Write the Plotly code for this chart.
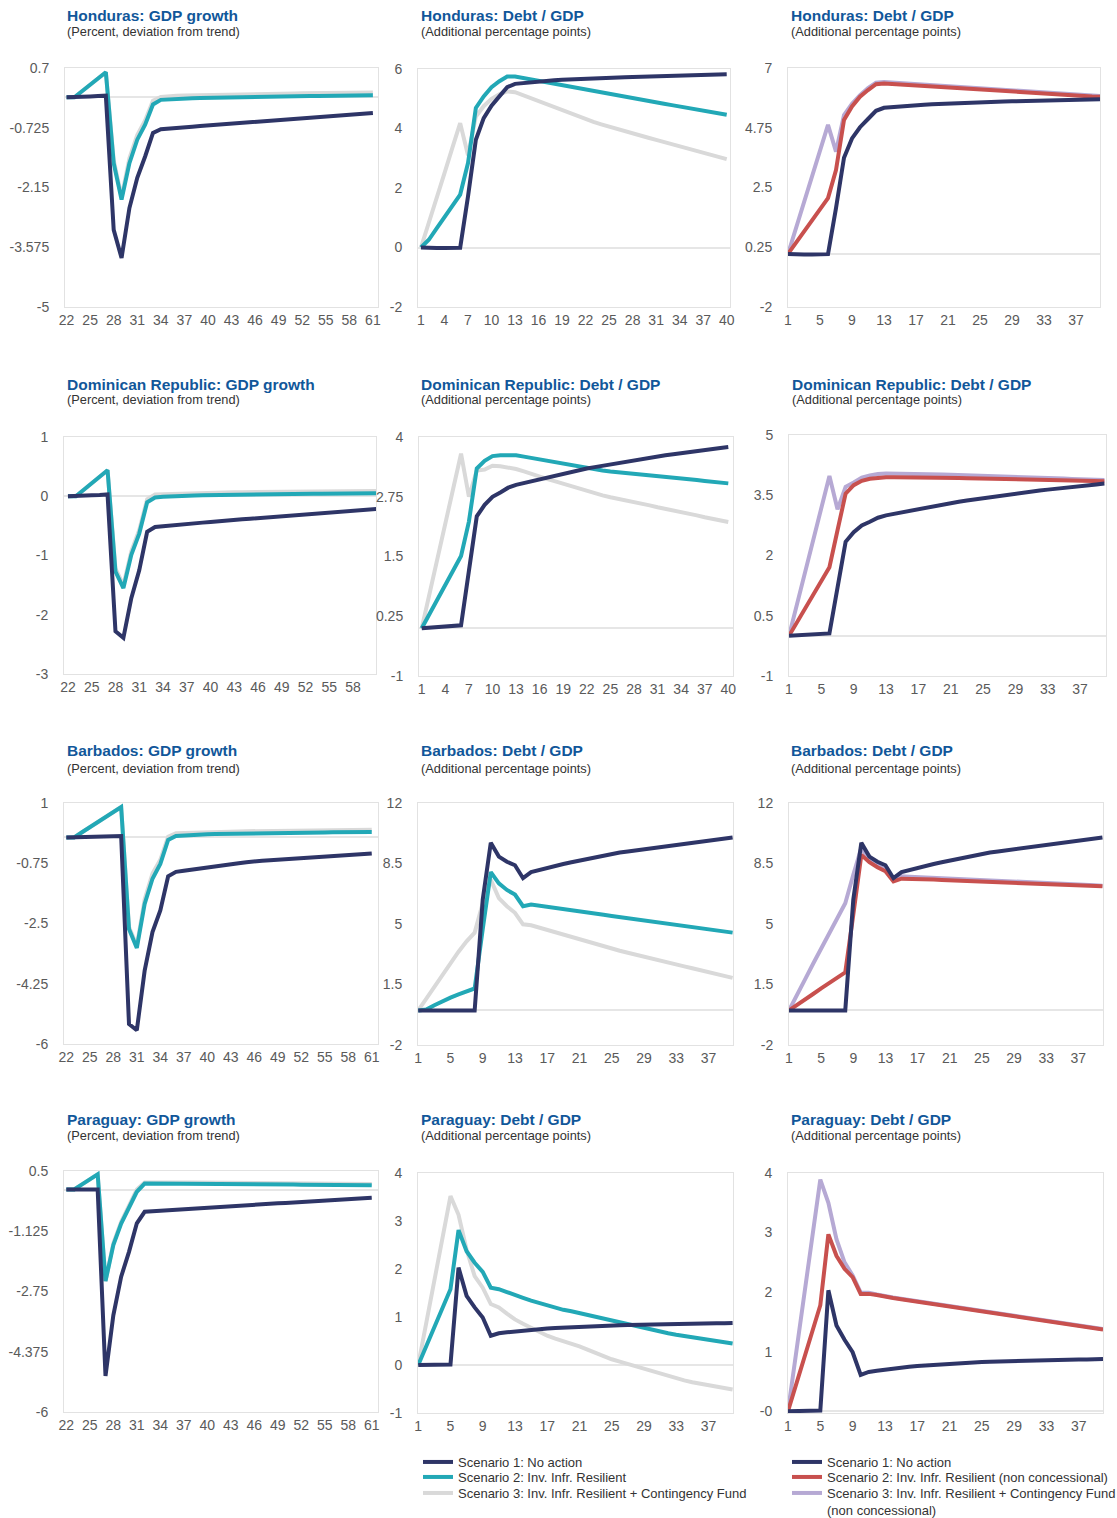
import plotly.graph_objects as go

W, H = 1117, 1518

gdp_x = list(range(22, 62))
debt_x = list(range(1, 41))

# ---------------- Honduras ----------------
hon_gdp_s1 = [0, 0, 0.01, 0.02, 0.03, 0.04, -3.16, -3.83, -2.64, -1.92, -1.41, -0.85,
              -0.76, -0.74, -0.725, -0.71, -0.70, -0.685, -0.67, -0.655, -0.64, -0.63, -0.615, -0.60,
              -0.585, -0.57, -0.56, -0.545, -0.53, -0.515, -0.50, -0.49, -0.475, -0.46, -0.445, -0.43,
              -0.42, -0.405, -0.39, -0.375]
hon_gdp_s2 = [0, 0, 0.15, 0.3, 0.45, 0.6, -1.57, -2.44, -1.57, -1.01, -0.65, -0.17,
              -0.06, -0.045, -0.035, -0.03, -0.02, -0.015, -0.01, -0.005, 0.0, 0.005, 0.01, 0.012,
              0.015, 0.018, 0.02, 0.022, 0.025, 0.028, 0.03, 0.032, 0.035, 0.037, 0.04, 0.042,
              0.044, 0.046, 0.048, 0.05]
hon_gdp_s3 = [0, 0, 0.15, 0.3, 0.45, 0.6, -1.5, -2.38, -1.45, -0.9, -0.55, -0.08,
              0.01, 0.03, 0.04, 0.045, 0.05, 0.055, 0.06, 0.065, 0.07, 0.072, 0.075, 0.078,
              0.08, 0.082, 0.085, 0.088, 0.09, 0.092, 0.095, 0.097, 0.1, 0.102, 0.104, 0.106,
              0.108, 0.11, 0.112, 0.114]
hon_debt_s1 = [0, -0.02, -0.02, -0.02, -0.02, -0.01, 1.72, 3.62, 4.35, 4.77, 5.08, 5.39, 5.5,
               5.53, 5.56, 5.58, 5.60, 5.62, 5.635, 5.65, 5.66, 5.67, 5.685, 5.695, 5.705, 5.715,
               5.725, 5.735, 5.745, 5.755, 5.76, 5.77, 5.775, 5.785, 5.79, 5.80, 5.805, 5.81, 5.815, 5.82]
hon_debt_s2 = [0, 0.26, 0.64, 1.02, 1.4, 1.78, 2.84, 4.69, 5.08, 5.39, 5.59, 5.75, 5.75,
               5.70, 5.65, 5.60, 5.55, 5.50, 5.45, 5.40, 5.35, 5.30, 5.25, 5.20, 5.15, 5.10,
               5.055, 5.01, 4.965, 4.92, 4.875, 4.83, 4.785, 4.74, 4.695, 4.65, 4.60, 4.555, 4.51, 4.46]
hon_debt_s3 = [0, 0.8, 1.65, 2.5, 3.35, 4.18, 3.1, 4.4, 4.75, 5.0, 5.15, 5.25, 5.22,
               5.12, 5.02, 4.92, 4.81, 4.71, 4.61, 4.5, 4.4, 4.3, 4.22, 4.14, 4.06, 3.98,
               3.91, 3.84, 3.77, 3.69, 3.62, 3.55, 3.47, 3.40, 3.33, 3.25, 3.18, 3.11, 3.04, 2.97]
hon_nc_s2 = [0, 0.42, 0.84, 1.26, 1.68, 2.1, 3.16, 5.04, 5.55, 5.92, 6.17, 6.39, 6.42,
             6.40, 6.38, 6.36, 6.34, 6.32, 6.30, 6.285, 6.265, 6.245, 6.225, 6.205, 6.19, 6.17,
             6.15, 6.13, 6.11, 6.09, 6.07, 6.05, 6.035, 6.015, 5.995, 5.975, 5.955, 5.94, 5.93, 5.92]
hon_nc_s3 = [0, 0.97, 1.94, 2.91, 3.88, 4.86, 3.85, 5.23, 5.65, 5.98, 6.24, 6.45, 6.47,
             6.45, 6.43, 6.41, 6.39, 6.37, 6.35, 6.33, 6.31, 6.29, 6.27, 6.25, 6.23, 6.21,
             6.19, 6.17, 6.15, 6.13, 6.11, 6.09, 6.07, 6.05, 6.03, 6.01, 5.99, 5.97, 5.96, 5.95]

# ---------------- Dominican Republic ----------------
dr_gdp_s1 = [0, 0, 0.01, 0.015, 0.02, 0.03, -2.28, -2.39, -1.72, -1.25, -0.6, -0.52,
             -0.505, -0.49, -0.48, -0.47, -0.455, -0.445, -0.435, -0.42, -0.41, -0.40, -0.39, -0.38,
             -0.37, -0.36, -0.35, -0.34, -0.33, -0.32, -0.31, -0.30, -0.29, -0.28, -0.27, -0.26,
             -0.25, -0.235, -0.225, -0.215]
dr_gdp_s2 = [0, 0, 0.11, 0.22, 0.33, 0.44, -1.27, -1.55, -0.99, -0.63, -0.1, -0.02,
             -0.01, 0.0, 0.005, 0.01, 0.013, 0.016, 0.019, 0.022, 0.024, 0.026, 0.028, 0.03,
             0.032, 0.034, 0.035, 0.037, 0.038, 0.04, 0.041, 0.042, 0.043, 0.044, 0.045, 0.046,
             0.047, 0.048, 0.049, 0.05]
dr_gdp_s3 = [0, 0, 0.11, 0.22, 0.33, 0.44, -1.22, -1.5, -0.93, -0.57, -0.05, 0.03,
             0.035, 0.04, 0.045, 0.05, 0.053, 0.056, 0.059, 0.062, 0.064, 0.066, 0.068, 0.07,
             0.072, 0.074, 0.075, 0.077, 0.078, 0.08, 0.081, 0.082, 0.083, 0.084, 0.085, 0.086,
             0.087, 0.088, 0.089, 0.09]
dr_debt_s1 = [0, 0.01, 0.02, 0.03, 0.04, 0.06, 1.2, 2.34, 2.58, 2.75, 2.84, 2.94, 3.0,
              3.04, 3.08, 3.12, 3.16, 3.19, 3.23, 3.27, 3.30, 3.34, 3.37, 3.40, 3.43, 3.46,
              3.49, 3.52, 3.545, 3.57, 3.595, 3.62, 3.64, 3.665, 3.685, 3.71, 3.73, 3.75, 3.77, 3.79]
dr_debt_s2 = [0, 0.3, 0.6, 0.9, 1.2, 1.51, 2.23, 3.34, 3.5, 3.6, 3.62, 3.63, 3.62,
              3.59, 3.56, 3.53, 3.50, 3.47, 3.44, 3.41, 3.375, 3.34, 3.32, 3.30, 3.28, 3.265,
              3.25, 3.23, 3.215, 3.20, 3.18, 3.165, 3.15, 3.13, 3.115, 3.10, 3.08, 3.065, 3.05, 3.03]
dr_debt_s3 = [0, 0.73, 1.46, 2.19, 2.92, 3.65, 2.75, 3.3, 3.32, 3.4, 3.39, 3.37, 3.33,
              3.28, 3.22, 3.17, 3.12, 3.07, 3.02, 2.96, 2.91, 2.86, 2.82, 2.78, 2.74, 2.71,
              2.67, 2.64, 2.60, 2.57, 2.53, 2.50, 2.46, 2.43, 2.39, 2.36, 2.32, 2.29, 2.25, 2.22]
dr_nc_s2 = [0, 0.34, 0.68, 1.02, 1.37, 1.71, 2.63, 3.54, 3.75, 3.86, 3.91, 3.94, 3.95,
            3.95, 3.95, 3.95, 3.945, 3.94, 3.94, 3.935, 3.93, 3.93, 3.925, 3.92, 3.915, 3.91,
            3.905, 3.90, 3.895, 3.89, 3.885, 3.88, 3.875, 3.87, 3.865, 3.86, 3.86, 3.855, 3.85, 3.85]
dr_nc_s3 = [0, 0.8, 1.6, 2.4, 3.2, 3.98, 3.15, 3.71, 3.82, 3.94, 3.99, 4.03, 4.04,
            4.04, 4.04, 4.035, 4.03, 4.025, 4.02, 4.015, 4.01, 4.005, 4.0, 3.995, 3.99, 3.985,
            3.975, 3.97, 3.96, 3.955, 3.945, 3.94, 3.93, 3.92, 3.915, 3.905, 3.9, 3.89, 3.885, 3.88]

# ---------------- Barbados ----------------
bar_gdp_s1 = [0, 0.01, 0.015, 0.02, 0.025, 0.03, 0.035, 0.04,
              -5.42, -5.6, -3.87, -2.75, -2.12, -1.13, -1.0,
              -0.965, -0.93, -0.895, -0.86, -0.83, -0.80, -0.775, -0.75, -0.72, -0.69,
              -0.675, -0.66, -0.645, -0.63, -0.615, -0.60, -0.585, -0.57, -0.555, -0.54,
              -0.525, -0.51, -0.495, -0.48, -0.465]
bar_gdp_s2 = [0, 0, 0.15, 0.3, 0.44, 0.59, 0.73, 0.88,
              -2.66, -3.21, -1.93, -1.2, -0.77, -0.07, 0.04,
              0.06, 0.075, 0.085, 0.095, 0.10, 0.105, 0.11, 0.115, 0.12, 0.122,
              0.125, 0.128, 0.13, 0.133, 0.136, 0.138, 0.14, 0.143, 0.146, 0.148,
              0.15, 0.153, 0.155, 0.158, 0.16]
bar_gdp_s3 = [0, 0, 0.15, 0.3, 0.44, 0.59, 0.73, 0.88,
              -2.6, -3.15, -1.8, -1.05, -0.65, 0.02, 0.12,
              0.13, 0.14, 0.15, 0.155, 0.16, 0.165, 0.17, 0.175, 0.18, 0.182,
              0.185, 0.188, 0.19, 0.193, 0.196, 0.198, 0.2, 0.203, 0.206, 0.208,
              0.21, 0.213, 0.215, 0.218, 0.22]
bar_debt_s1 = [0, 0, 0, 0, 0, 0, 0, 0, 6.4, 9.7, 8.9, 8.6, 8.4, 7.65, 8.0, 8.13, 8.27,
               8.37, 8.47, 8.57, 8.67, 8.77, 8.87, 8.97, 9.07, 9.14, 9.2, 9.26, 9.33,
               9.39, 9.45, 9.51, 9.57, 9.63, 9.69, 9.75, 9.81, 9.87, 9.93, 10.0]
bar_debt_s2 = [0, 0.05, 0.3, 0.55, 0.74, 0.93, 1.1, 1.27, 4.7, 8.0, 7.35, 6.97, 6.7, 6.03, 6.12,
               6.06, 5.99, 5.92, 5.86, 5.79, 5.73, 5.66, 5.59, 5.53, 5.46, 5.40, 5.33, 5.27,
               5.21, 5.14, 5.08, 5.01, 4.95, 4.89, 4.82, 4.76, 4.69, 4.63, 4.56, 4.5]
bar_debt_s3 = [0, 0.7, 1.4, 2.1, 2.8, 3.4, 4.0, 4.5, 6.2, 7.55, 6.5, 6.03, 5.65, 4.98, 4.93,
               4.79, 4.65, 4.51, 4.38, 4.24, 4.1, 3.97, 3.83, 3.70, 3.56, 3.45, 3.34, 3.22,
               3.11, 3.0, 2.89, 2.78, 2.66, 2.55, 2.44, 2.33, 2.22, 2.10, 1.99, 1.88]
bar_nc_s2 = [0, 0.3, 0.6, 0.95, 1.28, 1.6, 1.9, 2.2, 5.53, 9.0, 8.58, 8.28, 8.05, 7.47, 7.62,
             7.62, 7.60, 7.58, 7.57, 7.55, 7.53, 7.51, 7.49, 7.48, 7.46, 7.44, 7.42, 7.40,
             7.39, 7.37, 7.35, 7.33, 7.31, 7.30, 7.28, 7.26, 7.24, 7.22, 7.20, 7.18]
bar_nc_s3 = [0, 0.95, 1.8, 2.7, 3.6, 4.5, 5.35, 6.2, 7.85, 9.4, 8.7, 8.4, 8.14, 7.56, 7.76,
             7.74, 7.72, 7.70, 7.68, 7.66, 7.64, 7.62, 7.60, 7.58, 7.56, 7.54, 7.52, 7.50,
             7.48, 7.46, 7.44, 7.42, 7.40, 7.38, 7.36, 7.33, 7.30, 7.27, 7.24, 7.21]

# ---------------- Paraguay ----------------
par_gdp_s1 = [0, 0, 0, 0, 0, -5.03, -3.39, -2.35, -1.68, -0.91, -0.6,
              -0.585, -0.57, -0.56, -0.545, -0.53, -0.52, -0.505, -0.49, -0.48, -0.465,
              -0.45, -0.44, -0.425, -0.41, -0.40, -0.385, -0.37, -0.36, -0.345, -0.33,
              -0.32, -0.305, -0.29, -0.28, -0.265, -0.25, -0.24, -0.23, -0.22]
par_gdp_s2 = [0, 0, 0.14, 0.28, 0.41, -2.47, -1.5, -0.92, -0.51, -0.06, 0.16,
              0.16, 0.16, 0.16, 0.158, 0.156, 0.155, 0.153, 0.151, 0.15, 0.148,
              0.146, 0.145, 0.143, 0.141, 0.14, 0.138, 0.136, 0.135, 0.133, 0.131,
              0.13, 0.128, 0.126, 0.125, 0.123, 0.121, 0.12, 0.118, 0.115]
par_gdp_s3 = [0, 0, 0.14, 0.28, 0.41, -2.47, -1.45, -0.87, -0.45, 0.0, 0.19,
              0.195, 0.195, 0.195, 0.193, 0.191, 0.19, 0.188, 0.186, 0.185, 0.183,
              0.181, 0.18, 0.178, 0.176, 0.175, 0.173, 0.171, 0.17, 0.168, 0.166,
              0.165, 0.163, 0.161, 0.16, 0.158, 0.156, 0.155, 0.153, 0.15]
par_debt_s1 = [0, 0, 0, 0, 0.01, 2.03, 1.44, 1.2, 0.99, 0.61, 0.66, 0.68, 0.70, 0.715, 0.73,
               0.745, 0.76, 0.77, 0.78, 0.79, 0.80, 0.805, 0.81, 0.82, 0.825, 0.83, 0.835, 0.84,
               0.845, 0.85, 0.85, 0.855, 0.86, 0.86, 0.865, 0.865, 0.87, 0.87, 0.87, 0.875]
par_debt_s2 = [0, 0.4, 0.79, 1.19, 1.58, 2.81, 2.37, 2.13, 1.94, 1.61, 1.58, 1.52, 1.45, 1.40,
               1.34, 1.29, 1.23, 1.19, 1.15, 1.12, 1.08, 1.04, 1.0, 0.96, 0.92, 0.88, 0.84,
               0.80, 0.76, 0.73, 0.69, 0.66, 0.63, 0.6, 0.575, 0.55, 0.525, 0.5, 0.475, 0.45]
par_debt_s3 = [0, 0.88, 1.76, 2.64, 3.52, 3.13, 2.4, 1.85, 1.61, 1.27, 1.2, 1.07, 0.95, 0.86,
               0.77, 0.69, 0.61, 0.55, 0.5, 0.44, 0.39, 0.32, 0.25, 0.18, 0.12, 0.07, 0.02,
               -0.03, -0.08, -0.13, -0.18, -0.24, -0.29, -0.32, -0.36, -0.39, -0.42, -0.45, -0.48, -0.51]
par_nc_s2 = [0, 0.45, 0.89, 1.34, 1.78, 2.97, 2.61, 2.39, 2.25, 1.97, 1.97, 1.95, 1.92,
             1.90, 1.88, 1.86, 1.84, 1.82, 1.80, 1.78, 1.76, 1.74, 1.72, 1.70, 1.68, 1.66,
             1.64, 1.62, 1.60, 1.58, 1.56, 1.54, 1.52, 1.50, 1.48, 1.46, 1.44, 1.42, 1.40, 1.37]
par_nc_s3 = [0, 0.97, 1.94, 2.92, 3.89, 3.5, 2.89, 2.5, 2.28, 1.99, 1.99, 1.96, 1.93,
             1.91, 1.89, 1.87, 1.85, 1.83, 1.81, 1.79, 1.77, 1.75, 1.73, 1.71, 1.69, 1.67,
             1.65, 1.63, 1.61, 1.59, 1.57, 1.55, 1.53, 1.51, 1.49, 1.47, 1.45, 1.43, 1.41, 1.38]

# ---------------- texts & ticks ----------------
countries = ["Honduras", "Dominican Republic", "Barbados", "Paraguay"]
gdp_sub = "(Percent, deviation from trend)"
debt_sub = "(Additional percentage points)"

legend_mid = ["Scenario 1: No action", "Scenario 2: Inv. Infr. Resilient",
              "Scenario 3: Inv. Infr. Resilient + Contingency Fund"]
legend_right = ["Scenario 1: No action", "Scenario 2: Inv. Infr. Resilient (non concessional)",
                "Scenario 3: Inv. Infr. Resilient + Contingency Fund<br>(non concessional)"]

gdp_xticks = list(range(22, 62, 3))
debt_xticks_3 = list(range(1, 41, 3))
debt_xticks_4 = list(range(1, 38, 4))

hon_gdp_yt = [-5, -3.575, -2.15, -0.725, 0.7]
hon_debt_yt = [-2, 0, 2, 4, 6]
hon_nc_yt = [-2, 0.25, 2.5, 4.75, 7]
dr_gdp_yt = [-3, -2, -1, 0, 1]
dr_debt_yt = [-1, 0.25, 1.5, 2.75, 4]
dr_nc_yt = [-1, 0.5, 2, 3.5, 5]
bar_gdp_yt = [-6, -4.25, -2.5, -0.75, 1]
bar_debt_yt = [-2, 1.5, 5, 8.5, 12]
par_gdp_yt = [-6, -4.375, -2.75, -1.125, 0.5]
par_debt_yt = [-1, 0, 1, 2, 3, 4]
par_nc_yt = [0, 1, 2, 3, 4]
par_nc_ytext = ["-0", "1", "2", "3", "4"]

NAVY = "#2e3567"
TEAL = "#22a8b6"
GRAY = "#d9d9d9"
RED = "#c8504e"
LAV = "#b6a9d4"
TITLE_C = "#11579a"
TICK_C = "#5a5a5a"
FONT = "Liberation Sans"

# legend ids per series (S3, S2, S1 drawing order)
LEG_MID = ["legend3", "legend2", "legend"]
LEG_RIGHT = ["legend6", "legend5", "legend4"]

panels = [
    (f"{countries[0]}: GDP growth", gdp_sub, gdp_x,
     [(hon_gdp_s3, GRAY), (hon_gdp_s2, TEAL), (hon_gdp_s1, NAVY)],
     hon_gdp_yt, None, [-5, 0.7], gdp_xticks, [21.8, 61.65], (65, 378, 68, 307), None),
    (f"{countries[0]}: Debt / GDP", debt_sub, debt_x,
     [(hon_debt_s3, GRAY), (hon_debt_s2, TEAL), (hon_debt_s1, NAVY)],
     hon_debt_yt, None, [-2, 6], debt_xticks_3, [0.62, 40.42], (418, 730, 69, 307), None),
    (f"{countries[0]}: Debt / GDP", debt_sub, debt_x,
     [(hon_nc_s3, LAV), (hon_nc_s2, RED), (hon_debt_s1, NAVY)],
     hon_nc_yt, None, [-2, 7], debt_xticks_4, [1, 40], (788, 1100, 68, 307), None),
    (f"{countries[1]}: GDP growth", gdp_sub, gdp_x,
     [(dr_gdp_s3, GRAY), (dr_gdp_s2, TEAL), (dr_gdp_s1, NAVY)],
     dr_gdp_yt, None, [-3, 1], gdp_xticks, [21.5, 60.9], (64, 376, 437, 674), None),
    (f"{countries[1]}: Debt / GDP", debt_sub, debt_x,
     [(dr_debt_s3, GRAY), (dr_debt_s2, TEAL), (dr_debt_s1, NAVY)],
     dr_debt_yt, None, [-1, 4], debt_xticks_3, [0.65, 40.6], (419, 733, 437, 676), None),
    (f"{countries[1]}: Debt / GDP", debt_sub, debt_x,
     [(dr_nc_s3, LAV), (dr_nc_s2, RED), (dr_debt_s1, NAVY)],
     dr_nc_yt, None, [-1, 5], debt_xticks_4, [1, 40.2], (789, 1106, 435, 676), None),
    (f"{countries[2]}: GDP growth", gdp_sub, gdp_x,
     [(bar_gdp_s3, GRAY), (bar_gdp_s2, TEAL), (bar_gdp_s1, NAVY)],
     bar_gdp_yt, None, [-6, 1], gdp_xticks, [21.7, 61.8], (64, 378, 803, 1044), None),
    (f"{countries[2]}: Debt / GDP", debt_sub, debt_x,
     [(bar_debt_s3, GRAY), (bar_debt_s2, TEAL), (bar_debt_s1, NAVY)],
     bar_debt_yt, None, [-2, 12], debt_xticks_4, [0.97, 40.05], (418, 733, 803, 1045), None),
    (f"{countries[2]}: Debt / GDP", debt_sub, debt_x,
     [(bar_nc_s3, LAV), (bar_nc_s2, RED), (bar_debt_s1, NAVY)],
     bar_debt_yt, None, [-2, 12], debt_xticks_4, [1, 40.07], (789, 1103, 803, 1045), None),
    (f"{countries[3]}: GDP growth", gdp_sub, gdp_x,
     [(par_gdp_s3, GRAY), (par_gdp_s2, TEAL), (par_gdp_s1, NAVY)],
     par_gdp_yt, None, [-6, 0.5], gdp_xticks, [21.7, 61.8], (64, 378, 1171, 1412), None),
    (f"{countries[3]}: Debt / GDP", debt_sub, debt_x,
     [(par_debt_s3, GRAY), (par_debt_s2, TEAL), (par_debt_s1, NAVY)],
     par_debt_yt, None, [-1, 4], debt_xticks_4, [0.97, 40.05], (418, 733, 1173, 1413), (LEG_MID, legend_mid)),
    (f"{countries[3]}: Debt / GDP", debt_sub, debt_x,
     [(par_nc_s3, LAV), (par_nc_s2, RED), (par_debt_s1, NAVY)],
     par_nc_yt, par_nc_ytext, [-0.03, 4], debt_xticks_4, [1, 40], (788, 1103, 1173, 1413), (LEG_RIGHT, legend_right)),
]

title_rows = [(16, 32), (384, 400), (751, 768), (1119, 1135)]
title_cols = [65, 419, 789]

fig = go.Figure()
annotations = []
layout_axes = {}

for i, (title, sub, xs, series, yt, ytext, yr, xt, xr, box, leg) in enumerate(panels):
    k = i + 1
    xa = "x" if k == 1 else f"x{k}"
    ya = "y" if k == 1 else f"y{k}"
    names_idx = [2, 1, 0]
    for j, (ys, color) in enumerate(series):
        tr = dict(x=xs, y=ys, mode="lines", xaxis=xa, yaxis=ya,
                  line=dict(color=color, width=4), hoverinfo="skip",
                  showlegend=False)
        if leg is not None:
            tr.update(showlegend=True, legend=leg[0][j], name=leg[1][names_idx[j]])
        fig.add_trace(go.Scatter(**tr))
    x0, x1, yt0, yb = box
    layout_axes["xaxis" if k == 1 else f"xaxis{k}"] = dict(
        domain=[x0 / W, x1 / W], anchor=ya, range=xr, tickmode="array", tickvals=xt,
        showgrid=False, zeroline=False, showline=True, mirror=True, linecolor="#e2e2e2",
        linewidth=1, ticks="", tickfont=dict(size=14, color=TICK_C, family=FONT),
        ticklabelstandoff=0, fixedrange=True)
    layout_axes["yaxis" if k == 1 else f"yaxis{k}"] = dict(
        domain=[1 - yb / H, 1 - yt0 / H], anchor=xa, range=yr, tickmode="array",
        tickvals=yt, ticktext=ytext if ytext else [f"{v:g}" for v in yt],
        showgrid=False, zeroline=True, zerolinecolor="#e6e6e6", zerolinewidth=1.5,
        showline=True, mirror=True, linecolor="#e2e2e2", linewidth=1, ticks="",
        tickfont=dict(size=14, color=TICK_C, family=FONT), ticklabelstandoff=12,
        fixedrange=True)
    r, c = divmod(i, 3)
    ty, sy = title_rows[r]
    tx = title_cols[c] + (1 if (r == 1 and c == 2) else 0)
    annotations.append(dict(text=f"<b>{title}</b>", x=tx / W, y=1 - ty / H, xref="paper",
                            yref="paper", xanchor="left", yanchor="middle", showarrow=False,
                            font=dict(size=15.5, color=TITLE_C, family=FONT)))
    annotations.append(dict(text=sub, x=tx / W, y=1 - sy / H, xref="paper", yref="paper",
                            xanchor="left", yanchor="middle", showarrow=False,
                            font=dict(size=12.8, color="#333333", family=FONT)))

legend_common = dict(xanchor="left", yanchor="top", bgcolor="rgba(0,0,0,0)",
                     font=dict(size=13, color="#333333", family=FONT),
                     tracegroupgap=0, itemwidth=30, valign="top")

# legend item centres (px) for each of the three rows
leg_rows = [1462, 1477, 1493]
legends = {}
for n, name in enumerate(["legend", "legend2", "legend3"]):
    legends[name] = dict(x=418 / W, y=1 - (leg_rows[n] - 15) / H, **legend_common)
for n, name in enumerate(["legend4", "legend5", "legend6"]):
    legends[name] = dict(x=787 / W, y=1 - (leg_rows[n] - 15) / H, **legend_common)

fig.update_layout(
    width=W, height=H, margin=dict(l=0, r=0, t=0, b=0, pad=0, autoexpand=False),
    paper_bgcolor="white", plot_bgcolor="white",
    annotations=annotations,
    **legends,
    **layout_axes,
)

fig.write_html("out.html", config={"displayModeBar": False},
               post_script="document.body.style.margin='0';document.body.style.overflow='hidden';")
